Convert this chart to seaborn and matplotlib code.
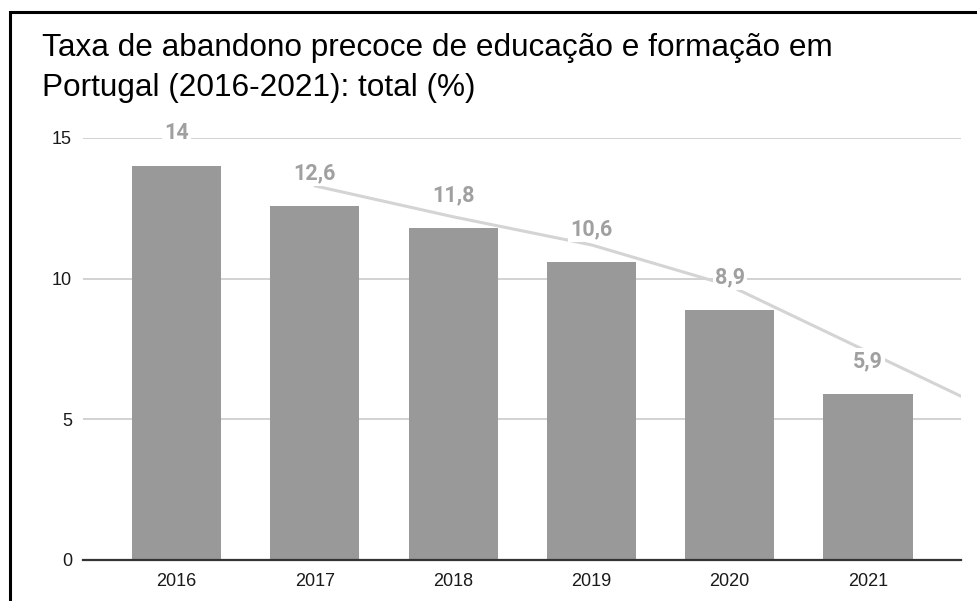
import matplotlib
matplotlib.use("Agg")
import matplotlib.pyplot as plt
from matplotlib.patches import Rectangle
import seaborn as sns
import pandas as pd

# Data
years = ["2016", "2017", "2018", "2019", "2020", "2021"]
rates = [14, 12.6, 11.8, 10.6, 8.9, 5.9]
# moving-average trendline (starts at 2017, runs past 2021)
trend_pos = [1, 2, 3, 4, 5, 6]
trend_values = [13.3, 12.2, 11.2, 9.75, 7.4, 5.05]

title_lines = ["Taxa de abandono precoce de educação e formação em",
               "Portugal (2016-2021): total (%)"]

sns.set_theme(style="white")
plt.rcParams['font.family'] = ['Liberation Sans', 'DejaVu Sans']

W, H = 977, 601
fig = plt.figure(figsize=(W / 100, H / 100), dpi=100)
ax = fig.add_axes([83 / W, 41 / H, (961 - 83) / W, (560 - 138) / H])

df = pd.DataFrame({"Ano": years, "Taxa": rates})
sns.barplot(data=df, x="Ano", y="Taxa", color="#999999", saturation=1,
            width=0.645, ax=ax, zorder=2, linewidth=0)

df_trend = pd.DataFrame({"pos": trend_pos, "val": trend_values})
sns.lineplot(data=df_trend, x="pos", y="val", color="#d4d4d4", linewidth=2.2,
             ax=ax, zorder=3)

# value labels
for i, v in enumerate(rates):
    ax.annotate(f"{v:g}".replace(".", ","), xy=(i, v), xytext=(0, 23.5),
                textcoords="offset points", ha="center", va="center",
                fontsize=15.5, fontweight="bold", color="#a0a0a0",
                family=["Roboto", "DejaVu Sans"], zorder=5,
                bbox=dict(boxstyle="square,pad=0.1", fc="white", ec="none"))

ax.set_xlim(-0.676, 5.672)
ax.set_ylim(0, 15)
ax.set_yticks([0, 5, 10, 15])
ax.yaxis.grid(True, color="#cfcfcf", linewidth=1.3, zorder=0)
ax.set_axisbelow(True)
ax.set_xlabel("")
ax.set_ylabel("")
for s in ["left", "top", "right"]:
    ax.spines[s].set_visible(False)
ax.spines["bottom"].set_color("#333333")
ax.spines["bottom"].set_linewidth(1.6)
ax.spines["bottom"].set_zorder(4)
ax.tick_params(axis="both", length=0, labelsize=13, labelcolor="#1a1a1a")
ax.tick_params(axis="y", pad=8)
ax.tick_params(axis="x", pad=9)

# title
fig.text(42 / W, 1 - 56 / H, title_lines[0], fontsize=22.7, color="black",
         ha="left", va="baseline")
fig.text(42 / W, 1 - 96 / H, title_lines[1], fontsize=22.7, color="black",
         ha="left", va="baseline")

# black frame (cropped at right and bottom)
fig.patches.append(Rectangle((10 / W, -0.1), 2, (H - 12) / H + 0.1,
                             transform=fig.transFigure, fill=False,
                             ec="black", lw=2.2))

fig.savefig("out.png", dpi=100)
